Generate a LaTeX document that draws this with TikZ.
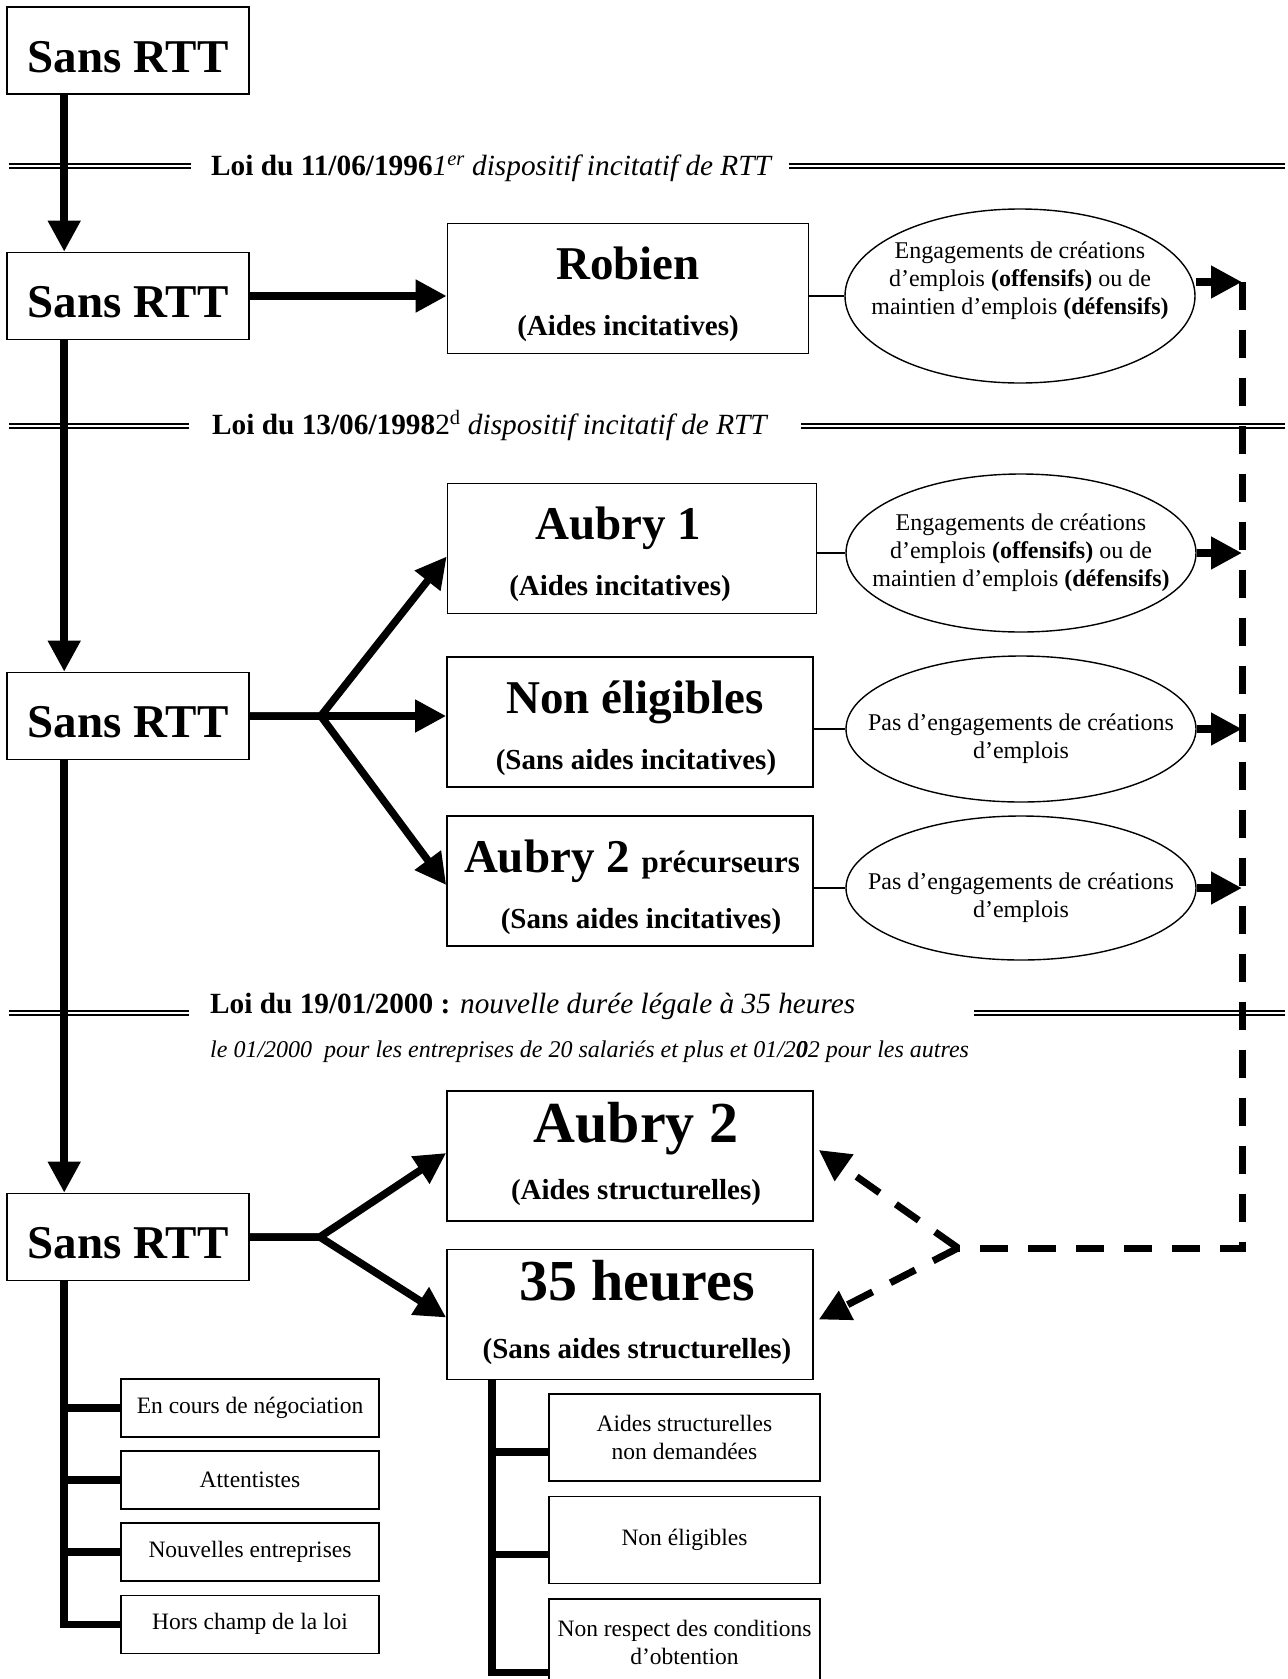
\documentclass[tikz,border=0pt]{standalone}
\usepackage{fontspec}
\setmainfont{Liberation Serif}
\usetikzlibrary{arrows.meta, shapes.geometric, positioning}

\begin{document}
\begin{tikzpicture}[x=1pt, y=-1pt, line join=miter,
    >={Triangle[length=31pt,width=31pt]},
    rttbox/.style={draw, line width=1.6pt, minimum width=242pt, minimum height=87pt, inner sep=0pt, text height=43pt, text depth=0pt, font=\fontsize{47}{50}\selectfont\bfseries},
    mainbox/.style={draw, line width=1.6pt, minimum width=366pt, minimum height=130pt, inner sep=0pt},
    title/.style={anchor=base, inner sep=0pt, font=\fontsize{47}{50}\selectfont\bfseries},
    bigtitle/.style={title, font=\fontsize{58}{60}\selectfont\bfseries},
    subtitle/.style={anchor=base, inner sep=0pt, font=\fontsize{29}{32}\selectfont\bfseries},
    bubble/.style={draw, ellipse, line width=1.4pt, minimum width=350pt, minimum height=146pt, inner xsep=-30pt, inner ysep=0pt, align=center, font=\fontsize{24}{28}\selectfont},
    leaf/.style={draw, line width=1.6pt, minimum width=258pt, minimum height=58pt, font=\fontsize{23.5}{28}\selectfont},
    rleaf/.style={leaf, minimum width=271pt, minimum height=87pt, align=center},
    law/.style={anchor=base west, inner sep=0pt, font=\fontsize{29.3}{32}\selectfont},
    lawline/.style={double, line width=2pt, double distance=2.5pt},
    flow/.style={line width=7.5pt, ->},
    fork/.style={line width=7.5pt},
    link/.style={line width=1.4pt},
    dashflow/.style={line width=7pt, dash pattern=on 28pt off 20pt}
  ]
  \useasboundingbox (0,0) rectangle (1288,1679);
  %
  \draw[lawline] (9,166) -- (191,166) (789,166) -- (1285,166);
  \draw[lawline] (9,426) -- (189,426) (801,426) -- (1285,426);
  \draw[lawline] (9,1013) -- (189,1013) (974,1013) -- (1285,1013);
  \node[law] (law1) at (211,175) {\textbf{Loi du 11/06/1996}\textit{1\textsuperscript{er} dispositif incitatif de RTT}};
  \node[law] (law2) at (212,434) {\textbf{Loi du 13/06/1998}2\textsuperscript{d} \textit{dispositif incitatif de RTT}};
  \node[law] (law3) at (210,1013) {\textbf{Loi du 19/01/2000 :} \textit{nouvelle durée légale à 35 heures}};
  \node[law, font=\fontsize{24}{26}\selectfont\itshape] (law4) at (210,1057) {le 01/2000\ \ pour les entreprises de 20 salariés et plus et 01/2\rlap{\textbf{0}}02 pour les autres};
  %
  \node[rttbox] (rtt1) at (128,50.5) {Sans RTT};
  \node[rttbox] (rtt2) at (128,296) {Sans RTT};
  \node[rttbox] (rtt3) at (128,716) {Sans RTT};
  \node[rttbox] (rtt4) at (128,1237) {Sans RTT};
  %
  \node[mainbox, minimum width=361pt] (robien) at (628,288.5) {};
  \node[title] (robienT) at ([yshift=-57pt]robien.north) {Robien};
  \node[subtitle] (robienS) at ([yshift=-113pt]robien.north) {(Aides incitatives)};
  \node[mainbox, minimum width=369pt] (aubry1) at (632,548.5) {};
  \node[title] (aubry1T) at ([xshift=-14pt,yshift=-57pt]aubry1.north) {Aubry 1};
  \node[subtitle] (aubry1S) at ([xshift=-12pt,yshift=-113pt]aubry1.north) {(Aides incitatives)};
  \node[mainbox] (nonel) at (630,722) {};
  \node[title] (nonelT) at ([xshift=5pt,yshift=-57pt]nonel.north) {Non éligibles};
  \node[subtitle] (nonelS) at ([xshift=6pt,yshift=-113pt]nonel.north) {(Sans aides incitatives)};
  \node[mainbox] (aubryp) at (630,881) {};
  \node[title] (aubrypT) at ([xshift=2pt,yshift=-57pt]aubryp.north) {Aubry 2 {\fontsize{31}{34}\selectfont précurseurs}};
  \node[subtitle] (aubrypS) at ([xshift=11pt,yshift=-113pt]aubryp.north) {(Sans aides incitatives)};
  \node[mainbox] (aubry2) at (630,1156) {};
  \node[bigtitle] (aubry2T) at ([xshift=6pt,yshift=-52pt]aubry2.north) {Aubry 2};
  \node[subtitle] (aubry2S) at ([xshift=6pt,yshift=-109pt]aubry2.north) {(Aides structurelles)};
  \node[mainbox] (h35) at (630,1314.5) {};
  \node[bigtitle] (h35T) at ([xshift=7pt,yshift=-52pt]h35.north) {35 heures};
  \node[subtitle] (h35S) at ([xshift=7pt,yshift=-110pt]h35.north) {(Sans aides structurelles)};
  %
  \node[bubble, minimum height=174pt, text depth=36pt] (e1) at (1020,296) {Engagements de créations\\d’emplois \textbf{(offensifs)} ou de\\maintien d’emplois \textbf{(défensifs)}};
  \node[bubble, minimum height=158pt] (e2) at (1021,553) {Engagements de créations\\d’emplois \textbf{(offensifs)} ou de\\maintien d’emplois \textbf{(défensifs)}};
  \node[bubble, text height=65pt] (e3) at (1021,729) {Pas d’engagements de créations\\d’emplois};
  \node[bubble, minimum height=144pt, text height=65pt] (e4) at (1021,888) {Pas d’engagements de créations\\d’emplois};
  %
  \draw[link] (e1.west -| robien.east) -- (e1.west);
  \draw[link] (e2.west -| aubry1.east) -- (e2.west);
  \draw[link] (e3.west -| nonel.east) -- (e3.west);
  \draw[link] (e4.west -| aubryp.east) -- (e4.west);
  %
  \draw[flow] ([xshift=58pt]rtt1.south west) -- ([xshift=58pt]rtt2.north west);
  \draw[flow] ([xshift=58pt]rtt2.south west) -- ([xshift=58pt]rtt3.north west);
  \draw[flow] ([xshift=58pt]rtt3.south west) -- ([xshift=58pt]rtt4.north west);
  \draw[flow] (rtt2.east) -- (rtt2.east -| robien.west);
  %
  \coordinate (fork3) at ([xshift=71pt]rtt3.east);
  \draw[flow] (rtt3.east) -- (fork3) -- ([yshift=-8pt]aubry1.west);
  \draw[flow] (rtt3.east) -- (fork3) -- ([yshift=-4pt]aubryp.west);
  \draw[flow] (fork3) -- (fork3 -| nonel.west);
  \coordinate (fork4) at ([xshift=70pt]rtt4.east);
  \draw[flow] (rtt4.east) -- (fork4) -- ([yshift=3pt]aubry2.west);
  \draw[flow] (rtt4.east) -- (fork4) -- ([yshift=-3pt]h35.west);
  %
  \coordinate (dtop) at (1242,282);
  \coordinate (apex) at (958,1248);
  \draw[dashflow] (dtop) |- (apex);
  \draw[dashflow, ->] (apex) -- ([xshift=5pt,yshift=6pt]aubry2.east);
  \draw[dashflow, ->] (apex) -- ([xshift=5pt,yshift=-5pt]h35.east);
  \draw[flow] (e1.east |- dtop) -- (dtop);
  \draw[flow] (e2.east) -- (e2.east -| dtop);
  \draw[flow] (e3.east) -- (e3.east -| dtop);
  \draw[flow] (e4.east) -- (e4.east -| dtop);
  %
  \node[leaf] (cours) at (250,1408) {En cours de négociation};
  \node[leaf, below=12.5pt of cours] (attente) {Attentistes};
  \node[leaf, below=12.5pt of attente] (nouv) {Nouvelles entreprises};
  \node[leaf, below=12.5pt of nouv] (hors) {Hors champ de la loi};
  \coordinate (ltrunk) at ([xshift=58pt]rtt4.south west);
  \draw[fork] (ltrunk) |- (hors.west);
  \foreach \leafname in {cours, attente, nouv}
    \draw[fork] (ltrunk |- \leafname.west) -- (\leafname.west);
  %
  \node[rleaf] (r1) at (684.5,1437.5) {Aides structurelles\\non demandées};
  \node[rleaf, below=14pt of r1] (r2) {Non éligibles};
  \node[rleaf, below=14pt of r2] (r3) {Non respect des conditions\\d’obtention};
  \coordinate (rtrunk) at ([xshift=46pt]h35.south west);
  \draw[fork] (rtrunk) |- ([yshift=-30pt]r3.west);
  \foreach \leafname in {r1, r2}
    \draw[fork] ([yshift=-14.5pt]\leafname.west) -- ++(-56,0);
\end{tikzpicture}
\end{document}
